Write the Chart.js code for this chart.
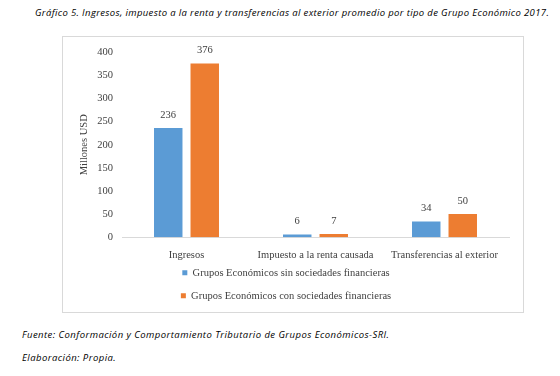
<!DOCTYPE html>
<html>
<head>
<meta charset="utf-8">
<script src="https://cdn.jsdelivr.net/npm/chart.js@4"></script>
<style>
  body { margin: 0; background: #fff; width: 560px; height: 376px; position: relative; overflow: hidden; }
  .note { position: absolute; font-family: "Open Sans", sans-serif; font-style: italic; font-size: 9.5px; color: #000; white-space: nowrap; }
  #title { left: 35px; top: 6px; letter-spacing: 0.36px; }
  #fuente { left: 22px; top: 328px; letter-spacing: 0.45px; }
  #elab { left: 22px; top: 351px; letter-spacing: 0.45px; }
  #box { position: absolute; left: 62px; top: 36px; width: 460px; height: 275px; border: 1px solid #d9d9d9; }
  #wrap { position: absolute; left: 63px; top: 37px; width: 460px; height: 282px; }
</style>
</head>
<body>
<div class="note" id="title">Gráfico 5. Ingresos, impuesto a la renta y transferencias al exterior promedio por tipo de Grupo Económico 2017.</div>
<div id="box"></div>
<div id="wrap"><canvas id="myChart"></canvas></div>
<div class="note" id="fuente">Fuente: Conformación y Comportamiento Tributario de Grupos Económicos-SRI.</div>
<div class="note" id="elab">Elaboración: Propia.</div>
<script>
const categories = ['Ingresos', 'Impuesto a la renta causada', 'Transferencias al exterior']
const seriesNames = ['Grupos Económicos sin sociedades financieras', 'Grupos Económicos con sociedades financieras']
const sinFinancieras = [236, 6, 34]
const conFinancieras = [376, 7, 50]
const yTicks = [0, 50, 100, 150, 200, 250, 300, 350, 400]

const serif = 'Liberation Serif'
const textColor = '#404040'

// numbers above each bar
const valueLabels = {
    id: 'valueLabels',
    afterDatasetsDraw(chart) {
        const ctx = chart.ctx
        ctx.save()
        ctx.font = '10.5px "' + serif + '"'
        ctx.fillStyle = textColor
        ctx.textAlign = 'center'
        ctx.textBaseline = 'middle'
        chart.data.datasets.forEach((ds, i) => {
            chart.getDatasetMeta(i).data.forEach((bar, j) => {
                ctx.fillText(ds.data[j], bar.x, bar.y - 13)
            })
        })
        ctx.restore()
    }
}

// pull the legend a bit closer to the category labels
const legendShift = {
    id: 'legendShift',
    afterLayout(chart) {
        chart.legend.top -= 8
        chart.legend.bottom -= 8
    }
}

const data = {
    labels: categories,
    datasets: [{
        label: seriesNames[0],
        data: sinFinancieras,
        backgroundColor: '#5b9bd5',
        categoryPercentage: 0.566,
        barPercentage: 0.78
    }, {
        label: seriesNames[1],
        data: conFinancieras,
        backgroundColor: '#ed7d31',
        categoryPercentage: 0.566,
        barPercentage: 0.78
    }]
}

Chart.defaults.font.family = serif

let myChart = new Chart(document.getElementById('myChart'), {
    type: 'bar',
    data: data,
    plugins: [valueLabels, legendShift],
    options: {
        responsive: true,
        maintainAspectRatio: false,
        animation: false,
        layout: { padding: { left: 0, right: 14, top: 10, bottom: 0 } },
        plugins: {
            tooltip: { enabled: false },
            legend: {
                position: 'bottom',
                labels: {
                    boxWidth: 5,
                    boxHeight: 5,
                    padding: 12.4,
                    color: textColor,
                    font: { family: serif, size: 10.5 }
                }
            }
        },
        scales: {
            x: {
                afterFit: s => { s.height = 26 },
                grid: { display: false, drawTicks: false },
                border: { color: '#d9d9d9' },
                ticks: { color: textColor, padding: 12, maxRotation: 0, font: { family: serif, size: 10.5 } }
            },
            y: {
                min: 0,
                max: 400,
                afterFit: s => { s.width = 59 },
                afterBuildTicks: s => { s.ticks = yTicks.map(v => ({ value: v })) },
                grid: { display: false, drawTicks: false },
                border: { display: false },
                title: {
                    display: true,
                    text: 'Millones USD',
                    color: textColor,
                    padding: { top: 15, bottom: 5 },
                    font: { family: serif, size: 10.5 }
                },
                ticks: { color: textColor, padding: 9, font: { family: serif, size: 10.5 } }
            }
        }
    }
})
</script>
</body>
</html>
